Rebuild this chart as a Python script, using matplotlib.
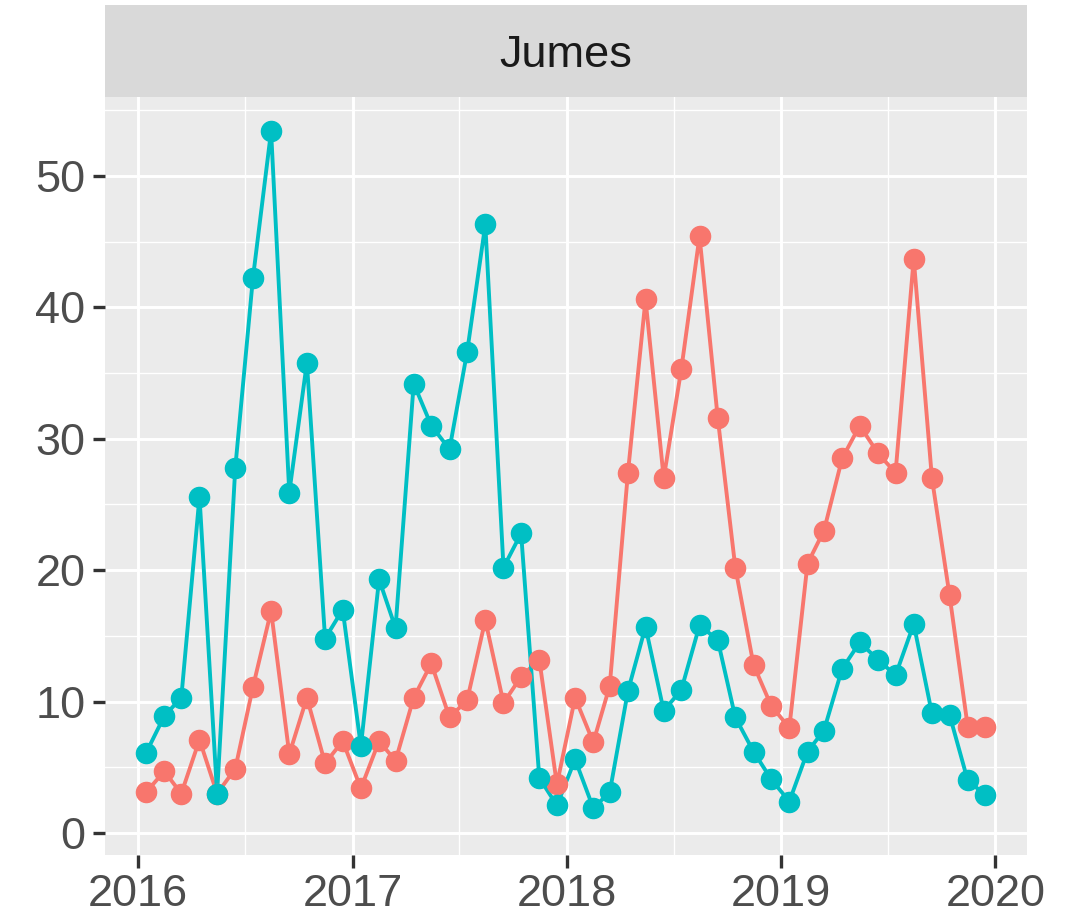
import datetime as dt

import matplotlib
matplotlib.use('Agg')
import matplotlib.pyplot as plt
import matplotlib.dates as mdates

# Monthly values, Jan 2016 - Dec 2019 (points sit mid-month)
months = [dt.date(2016 + i // 12, i % 12 + 1, 15) for i in range(48)]

red_values = [3.1, 4.7, 3.0, 7.1, 3.0, 4.9, 11.1, 16.9, 6.0, 10.3, 5.3, 7.0,
              3.4, 7.0, 5.5, 10.3, 12.9, 8.8, 10.1, 16.2, 9.9, 11.9, 13.2, 3.7,
              10.3, 6.9, 11.2, 27.4, 40.6, 27.0, 35.3, 45.4, 31.6, 20.2, 12.8, 9.7,
              8.0, 20.5, 23.0, 28.5, 31.0, 28.9, 27.4, 43.7, 27.0, 18.1, 8.1, 8.1]

teal_values = [6.1, 8.9, 10.3, 25.6, 3.0, 27.8, 42.2, 53.4, 25.9, 35.8, 14.8, 17.0,
               6.6, 19.3, 15.6, 34.2, 31.0, 29.2, 36.6, 46.3, 20.2, 22.8, 4.2, 2.1,
               5.6, 1.9, 3.1, 10.8, 15.7, 9.3, 10.9, 15.8, 14.7, 8.8, 6.2, 4.1,
               2.4, 6.2, 7.8, 12.5, 14.5, 13.2, 12.0, 15.9, 9.1, 9.0, 4.0, 2.9]

facet_title = 'Jumes'
year_ticks = [2016, 2017, 2018, 2019, 2020]
y_ticks = [0, 10, 20, 30, 40, 50]

RED = '#F8766D'
TEAL = '#00BFC4'

W, H = 1079, 922
fig = plt.figure(figsize=(W / 100, H / 100), dpi=100)
plt.rcParams['font.family'] = ['Liberation Sans', 'DejaVu Sans']

# panel and strip positions in pixels
pl, pr, pt, pb = 105, 1027, 97, 855
st = 5
ax = fig.add_axes([pl / W, 1 - pb / H, (pr - pl) / W, (pb - pt) / H])
strip = fig.add_axes([pl / W, 1 - pt / H, (pr - pl) / W, (pt - st) / H])

strip.set_facecolor('#D9D9D9')
strip.set_xticks([])
strip.set_yticks([])
for s in strip.spines.values():
    s.set_visible(False)
strip.text(0.5, 0.45, facet_title, ha='center', va='center',
           fontsize=32.5, color='#1A1A1A', transform=strip.transAxes)

ax.set_facecolor('#EBEBEB')
for s in ax.spines.values():
    s.set_visible(False)

# lines first, then points on top (ggplot layer order)
ax.plot(months, red_values, color=RED, lw=2.8, zorder=3)
ax.plot(months, teal_values, color=TEAL, lw=2.8, zorder=3)
ax.plot(months, red_values, 'o', color=RED, ms=14.5, zorder=4)
ax.plot(months, teal_values, 'o', color=TEAL, ms=14.5, zorder=5)

ax.set_xlim(mdates.date2num(dt.date(2015, 11, 6)), mdates.date2num(dt.date(2020, 2, 24)))
ax.set_ylim(-1.67, 56.0)

ax.set_xticks([mdates.date2num(dt.date(y, 1, 1)) for y in year_ticks])
ax.set_xticklabels([str(y) for y in year_ticks])
ax.set_xticks([mdates.date2num(dt.date(y, 7, 2)) for y in year_ticks[:-1]], minor=True)
ax.set_yticks(y_ticks)
ax.set_yticks([v + 5 for v in y_ticks], minor=True)

ax.grid(which='major', color='white', lw=2.1, zorder=1)
ax.grid(which='minor', color='white', lw=1.0, zorder=1)
ax.set_axisbelow(True)

ax.tick_params(which='major', length=9, width=2.4, color='#333333',
               labelsize=32.5, labelcolor='#4D4D4D', pad=5)
ax.tick_params(which='minor', length=0)

fig.savefig('out.png', dpi=100)
